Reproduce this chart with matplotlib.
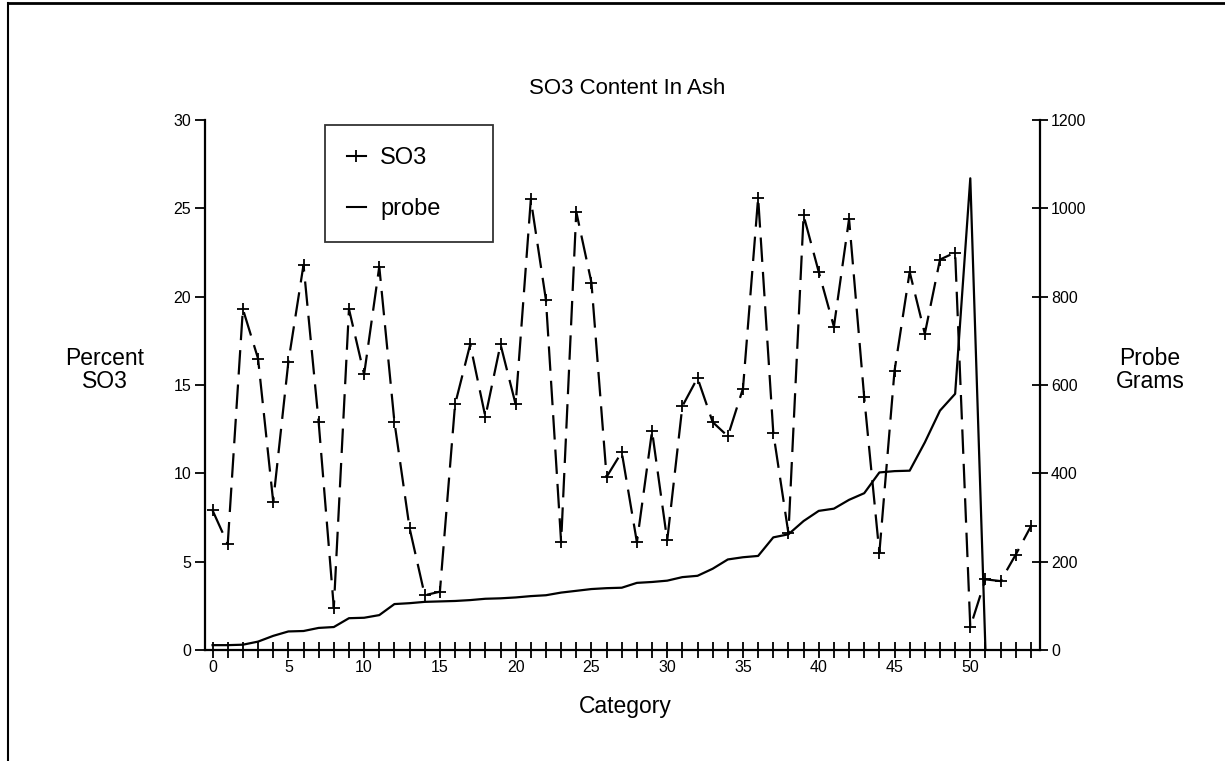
import numpy as np
import matplotlib.pyplot as plt
from matplotlib.ticker import MultipleLocator
from matplotlib.lines import Line2D

plt.rcParams['font.family'] = ['Liberation Sans', 'DejaVu Sans']

# Данные
categories = np.arange(55)
so3 = [7.9, 6.0, 19.3, 16.5, 8.4, 16.3, 21.8, 12.9, 2.4, 19.3,
       15.6, 21.7, 12.9, 6.9, 3.1, 3.3, 13.9, 17.3, 13.2, 17.3,
       13.9, 25.5, 19.8, 6.1, 24.8, 20.8, 9.8, 11.2, 6.1, 12.4,
       6.2, 13.8, 15.4, 12.9, 12.1, 14.8, 25.6, 12.3, 6.6, 24.6,
       21.4, 18.3, 24.4, 14.3, 5.5, 15.8, 21.4, 17.9, 22.1, 22.5,
       1.3, 4.0, 3.9, 5.4, 7.0]
probe = [11, 11, 12, 19, 32, 42, 43, 50, 52, 72,
         73, 79, 104, 106, 109, 110, 111, 113, 116, 117,
         119, 122, 124, 130, 134, 138, 140, 141, 152, 154,
         157, 165, 168, 184, 205, 210, 213, 255, 262, 292,
         315, 320, 340, 355, 402, 405, 406, 470, 542, 580,
         1068, 0]
probe_x = np.arange(len(probe))

fig = plt.figure(figsize=(12.25, 7.61), dpi=100)
ax = fig.add_axes([205 / 1225, 1 - 650 / 761, (1040 - 205) / 1225, (650 - 120) / 761])
ax2 = ax.twinx()

# Линии
l1, = ax.plot(categories, so3, color='k', lw=1.6, dashes=(11, 4.5),
              marker='+', ms=8, mew=1.3)
l2, = ax2.plot(probe_x, probe, color='k', lw=1.6)

ax.set_xlim(-0.5, 54.6)
ax.set_ylim(0, 30)
ax2.set_ylim(0, 1200)
ax.set_facecolor('none')

for a in (ax, ax2):
    a.spines['top'].set_visible(False)
    for s in a.spines.values():
        s.set_linewidth(1.6)
ax.spines['right'].set_visible(False)
ax2.spines['left'].set_visible(False)
ax2.spines['bottom'].set_visible(False)

ax.xaxis.set_major_locator(MultipleLocator(5))
ax.xaxis.set_minor_locator(MultipleLocator(1))
ax.yaxis.set_major_locator(MultipleLocator(5))
ax2.yaxis.set_major_locator(MultipleLocator(200))
ax.tick_params(axis='x', which='both', direction='inout', length=12, width=1.3,
               labelsize=11.5, pad=1)
ax.tick_params(axis='y', direction='out', length=7, width=1.3, labelsize=11.5, pad=3)
ax2.tick_params(axis='y', direction='inout', length=12, width=1.3, labelsize=11.5, pad=2)

# Подписи
fig.text(627 / 1225, 1 - 88 / 761, 'SO3 Content In Ash', ha='center', va='center', fontsize=16)
fig.text(625 / 1225, 1 - 706 / 761, 'Category', ha='center', va='center', fontsize=16.5)
fig.text(105 / 1225, 1 - 370 / 761, 'Percent\nSO3', ha='center', va='center', fontsize=16.5,
         linespacing=0.95)
fig.text(1150 / 1225, 1 - 370 / 761, 'Probe\nGrams', ha='center', va='center', fontsize=16.5,
         linespacing=0.95)

# Легенда
h1 = Line2D([], [], color='k', lw=1.5, marker='+', ms=9, mew=1.3)
h2 = Line2D([], [], color='k', lw=1.5)
leg = ax2.legend([h1, h2], ['SO3', 'probe'], loc='upper left',
                 bbox_to_anchor=(325 / 1225, 1 - 245 / 761, 168 / 1225, 120 / 761),
                 bbox_transform=fig.transFigure, mode='expand',
                 fontsize=17, handlelength=0.8, handletextpad=0.6, labelspacing=1.25,
                 borderpad=0.93, borderaxespad=0, fancybox=False, frameon=True)
leg.get_frame().set_edgecolor('k')
leg.get_frame().set_linewidth(1.3)

# Рамка вокруг рисунка
fig.add_artist(Line2D([8 / 1225, 8 / 1225], [0, 1 - 3 / 761], color='k', lw=1.5,
                      transform=fig.transFigure))
fig.add_artist(Line2D([8 / 1225, 1], [1 - 3 / 761, 1 - 3 / 761], color='k', lw=2,
                      transform=fig.transFigure))

fig.savefig('out.png', dpi=100)
